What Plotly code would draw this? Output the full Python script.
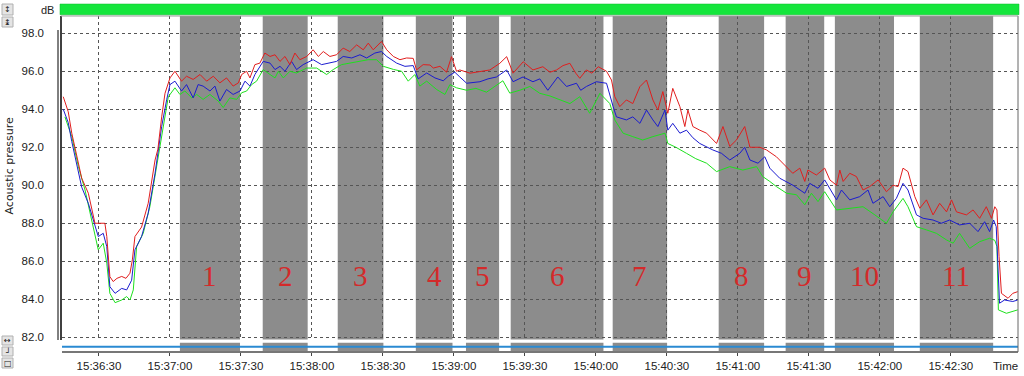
import pandas as pd
import plotly.graph_objects as go

# ---------------- data (seconds after 15:36:00, dB) ----------------
red_points = [(14.9,94.66),(17.0,93.87),(18.5,92.74),(20.6,91.5),(22.7,90.37),(25.5,89.58),(28.3,88.0),(32.5,88.0),
    (33.3,87.3),(34.6,85.19),(36.0,84.93),(37.6,85.1),(39.6,85.2),(41.4,85.1),(43.1,85.37),(44.1,86.07),(45.2,87.3),
    (48.0,87.8),(50.8,89.05),(53.7,91.33),(54.9,91.9),(56.5,93.6),(57.9,94.84),(60.0,95.65),(62.1,96.0),(64.9,95.48),
    (67.0,95.74),(69.8,95.57),(72.7,95.83),(75.5,95.48),(78.3,95.74),(81.1,95.39),(83.9,95.65),(86.7,95.22),(88.9,95.39),
    (90.3,95.83),(92.4,96.0),(93.8,95.65),(95.9,96.35),(98.0,96.43),(100.1,96.96),(102.3,96.78),(104.4,96.87),(106.5,96.52),
    (108.6,96.78),(110.7,96.35),(112.8,96.96),(114.9,96.61),(117.8,96.78),(120.5,97.13),(122.7,96.78),(124.8,97.04),
    (127.6,96.78),(130.4,96.87),(133.2,97.22),(136.0,97.04),(138.9,97.39),(141.7,97.13),(143.8,97.48),(145.9,97.13),
    (149.4,97.57),(151.6,97.13),(154.4,96.78),(157.2,96.61),(160.0,96.7),(162.8,96.68),(164.2,96.07),(167.0,96.35),
    (169.9,96.33),(171.3,96.17),(174.1,96.26),(176.9,95.95),(179.0,96.77),(181.1,96.0),(182.5,96.07),(186.8,95.9),
    (191.0,96.0),(195.2,96.07),(199.4,96.42),(202.3,96.77),(205.0,95.9),(209.3,96.5),(213.4,96.07),(217.6,96.24),
    (220.6,95.95),(223.4,96.07),(226.1,96.3),(229.0,96.42),(231.5,95.9),(233.2,95.63),(236.0,96.07),(238.3,95.9),
    (241.0,96.24),(244.5,96.0),(246.6,95.54),(248.0,94.66),(250.1,94.14),(252.9,94.49),(255.6,94.3),(258.6,95.19),
    (261.4,95.54),(264.1,94.49),(266.2,93.96),(268.3,94.93),(270.4,93.79),(272.5,95.1),(275.5,94.14),(277.6,93.09),
    (278.9,93.96),(281.0,93.09),(283.9,92.9),(286.8,92.74),(291.0,92.2),(293.7,93.09),(296.6,92.04),(299.4,92.38),
    (302.9,93.09),(305.1,92.0),(309.3,92.0),(312.1,91.86),(316.3,91.5),(320.6,90.98),(323.2,90.63),(326.2,90.9),
    (328.3,90.2),(329.6,90.8),(333.2,90.54),(336.7,90.9),(338.9,90.28),(341.7,90.0),(343.1,90.8),(344.5,90.2),
    (347.3,90.63),(350.1,90.46),(352.9,89.75),(355.7,89.93),(359.3,90.28),(362.8,89.66),(365.6,90.0),(367.7,89.93),
    (369.8,90.9),(371.9,90.72),(374.8,89.4),(376.9,88.79),(379.7,89.23),(382.5,88.44),(385.3,89.05),(388.2,88.6),
    (390.3,89.23),(392.4,88.6),(396.6,88.44),(399.4,88.7),(402.2,88.26),(405.0,88.87),(407.2,88.26),(408.6,88.87),
    (409.5,88.7),(410.4,86.24),(411.4,84.31),(414.2,84.05),(416.2,84.31),(418.3,84.4)]

blue_points = [(14.9,94.0),(17.0,93.3),(18.5,92.3),(20.6,91.1),(22.7,89.9),(25.5,89.05),(28.3,87.8),(29.7,87.3),
    (31.8,87.47),(33.3,86.77),(34.6,84.66),(36.8,84.31),(39.6,84.57),(41.7,84.49),(43.8,85.0),(45.2,86.6),(48.0,87.3),
    (50.8,88.53),(53.7,90.63),(56.5,93.1),(58.6,94.5),(60.0,95.3),(62.1,95.48),(64.9,94.96),(67.0,95.3),(69.8,94.6),
    (71.9,95.3),(74.0,95.22),(76.9,94.96),(79.0,95.22),(81.1,94.43),(83.9,95.04),(86.7,94.78),(89.6,94.96),(91.7,95.48),
    (93.8,95.22),(95.9,95.83),(99.4,96.52),(102.3,96.43),(104.4,96.09),(106.5,96.26),(108.6,96.0),(111.4,96.52),
    (113.5,96.09),(116.3,96.35),(120.5,96.61),(124.1,96.35),(126.9,96.43),(130.4,96.52),(133.2,96.78),(136.8,96.7),
    (140.3,96.87),(143.1,96.7),(146.6,96.96),(149.4,97.04),(151.6,96.78),(155.8,96.43),(159.3,96.26),(162.8,96.3),
    (164.9,95.6),(168.5,95.91),(172.0,95.65),(175.5,95.5),(177.6,95.74),(180.4,95.95),(182.5,95.7),(185.4,95.37),
    (191.0,95.45),(194.4,95.6),(198.0,95.7),(202.3,96.07),(205.0,95.45),(209.2,95.7),(213.4,95.45),(216.3,95.6),
    (219.7,95.0),(223.9,95.7),(227.6,95.2),(231.8,95.37),(233.6,95.0),(236.0,95.2),(240.2,95.45),(244.5,95.37),
    (247.3,94.14),(248.7,93.6),(252.9,93.44),(255.6,93.6),(258.6,93.26),(261.4,93.96),(264.1,93.44),(266.2,93.09),
    (269.2,93.96),(270.4,92.9),(272.5,93.26),(275.5,92.74),(278.3,92.9),(281.0,92.5),(283.9,92.2),(289.4,91.86),
    (293.1,91.68),(296.6,91.33),(300.8,91.68),(302.9,92.0),(305.1,91.33),(308.5,91.16),(311.4,91.5),(313.5,90.9),
    (317.7,90.37),(323.3,90.0),(328.3,89.58),(330.4,90.1),(333.9,89.84),(336.7,90.28),(341.7,89.23),(343.8,89.75),
    (347.3,89.23),(351.5,89.4),(355.0,89.75),(357.1,89.05),(361.4,89.4),(364.2,88.87),(367.0,89.31),(369.8,90.1),
    (371.9,89.75),(375.5,88.44),(378.3,88.26),(382.5,88.17),(386.0,88.0),(389.5,88.17),(393.7,87.91),(398.0,88.0),
    (401.5,87.56),(404.3,88.08),(406.4,87.56),(408.1,88.17),(409.2,87.82),(409.9,85.37),(410.6,83.79),(412.7,83.96),
    (416.2,83.88),(418.3,83.96)]

green_points = [(15.6,93.6),(18.5,92.56),(21.3,90.98),(24.1,89.75),(26.9,88.17),(29.7,86.6),(31.8,86.95),(33.3,85.9),
    (34.6,84.31),(36.8,83.82),(39.6,83.96),(41.7,84.14),(43.1,83.96),(44.5,84.49),(45.9,86.77),(48.7,87.47),(51.5,88.87),
    (54.4,90.98),(57.2,93.1),(59.3,94.66),(62.1,95.13),(64.2,94.78),(66.3,94.96),(69.2,94.6),(71.3,94.78),(74.0,94.52),
    (76.9,94.78),(80.4,94.43),(82.5,94.09),(85.3,94.6),(88.2,94.52),(90.3,94.87),(92.4,94.96),(94.5,95.3),(96.6,95.48),
    (99.4,96.09),(102.3,95.83),(104.4,95.65),(105.8,96.0),(107.9,95.65),(110.7,96.0),(113.5,95.91),(117.8,96.17),
    (122.0,96.17),(126.2,95.83),(129.0,96.09),(132.5,96.35),(136.0,96.43),(140.3,96.52),(143.8,96.61),(147.3,96.61),
    (150.2,96.26),(154.4,96.1),(157.9,96.0),(160.7,95.48),(163.5,95.83),(165.6,95.22),(168.5,95.48),(172.7,95.04),
    (176.2,94.78),(178.3,95.3),(181.1,95.13),(185.4,95.0),(189.3,95.1),(193.8,94.9),(197.3,95.2),(200.7,95.5),
    (203.6,94.85),(207.8,95.0),(212.1,95.2),(216.3,94.84),(220.6,94.7),(224.8,94.5),(229.0,94.3),(233.2,94.66),
    (237.4,93.79),(241.7,94.84),(245.9,94.3),(248.0,93.44),(251.5,92.74),(255.6,92.56),(259.8,92.38),(264.1,92.56),
    (269.2,92.74),(270.4,92.2),(273.8,92.0),(278.3,91.68),(282.2,91.4),(286.8,91.16),(291.0,90.72),(296.6,90.98),
    (302.1,90.8),(307.9,90.98),(310.5,90.46),(313.5,90.2),(316.3,89.93),(320.6,89.58),(324.8,89.5),(328.3,88.97),
    (331.1,89.58),(333.9,89.14),(336.7,89.66),(341.7,88.7),(347.3,88.79),(352.9,88.87),(357.9,88.44),(362.8,88.0),
    (365.6,88.6),(369.8,89.31),(371.9,88.87),(375.5,87.82),(379.7,87.65),(383.9,87.47),(388.2,87.12),(391.0,86.95),
    (393.7,87.47),(398.0,86.68),(402.2,87.03),(406.4,87.21),(408.6,87.1),(409.5,86.77),(410.1,83.44),(413.5,83.26),
    (418.3,83.44)]

# gray measurement bands (start s, end s after 15:36:00) and their labels
band_starts = [64.2, 99.2, 130.9, 163.9, 185.1, 204.0, 247.1, 291.9, 320.2, 341.0, 376.9]
band_ends   = [89.6, 118.2, 150.2, 179.4, 199.1, 243.2, 270.1, 311.1, 336.5, 366.0, 407.9]
band_labels = ["1", "2", "3", "4", "5", "6", "7", "8", "9", "10", "11"]

tick_labels = ["15:36:30", "15:37:00", "15:37:30", "15:38:00", "15:38:30", "15:39:00", "15:39:30",
               "15:40:00", "15:40:30", "15:41:00", "15:41:30", "15:42:00", "15:42:30"]
y_ticks = [82, 84, 86, 88, 90, 92, 94, 96, 98]

x_start_s, x_end_s = 14.37, 418.4
y_min, y_max = 81.88, 98.91
label_level = 85.2

# ---------------- helpers ----------------
DAY = "2024-01-01"
base = pd.Timestamp(DAY + " 15:36:00")
def ts(sec):
    return base + pd.to_timedelta(sec, unit="s")

W, H = 1024, 376
ML, MR, MT, MB = 62, 6, 16, 24
PW, PH = W - ML - MR, H - MT - MB
def px(x):
    return (x - ML) / PW
def py(y):
    return (H - MB - y) / PH

FONT = "Liberation Sans, Arial, sans-serif"

fig = go.Figure()
for pts, col in [(green_points, "#1ee01e"), (blue_points, "#1c1ccf"), (red_points, "#e01e1e")]:
    t, v = zip(*pts)
    fig.add_trace(go.Scatter(x=[ts(s) for s in t], y=list(v), mode="lines",
                             line=dict(color=col, width=1), hoverinfo="skip", showlegend=False))

# invisible trace for the event track axis
fig.add_trace(go.Scatter(x=[ts(x_start_s), ts(x_end_s)], y=[0, 1], xaxis="x2", yaxis="y2",
                         mode="markers", marker=dict(opacity=0), showlegend=False, hoverinfo="skip"))

shapes = []
annotations = []
for s0, s1, lab in zip(band_starts, band_ends, band_labels):
    shapes.append(dict(type="rect", xref="x", yref="y domain", x0=ts(s0), x1=ts(s1), y0=0, y1=1,
                       fillcolor="#8c8c8c", line=dict(width=0), layer="below"))
    shapes.append(dict(type="rect", xref="x2", yref="y2 domain", x0=ts(s0), x1=ts(s1), y0=0, y1=1,
                       fillcolor="#8c8c8c", line=dict(width=0), layer="below"))
    annotations.append(dict(x=ts((s0 + s1) / 2), y=label_level, xref="x", yref="y", text=lab, showarrow=False,
                            font=dict(family="Liberation Serif, Times New Roman, serif", size=29, color="#d42a2a")))

# blue line in event track
shapes.append(dict(type="line", xref="x2 domain", yref="y2 domain", x0=0, x1=1, y0=0.5, y1=0.5,
                   line=dict(color="#2a8ad2", width=2)))
# frame lines
shapes.append(dict(type="line", xref="paper", yref="paper", x0=px(61), x1=px(61), y0=py(340), y1=1,
                   line=dict(color="#000", width=1.5)))
shapes.append(dict(type="line", xref="paper", yref="paper", x0=px(58), x1=px(58), y0=py(340), y1=py(30),
                   line=dict(color="#000", width=1)))
shapes.append(dict(type="line", xref="paper", yref="paper", x0=px(1018), x1=px(1018), y0=0, y1=1,
                   line=dict(color="#666", width=1)))
shapes.append(dict(type="line", xref="paper", yref="paper", x0=px(61), x1=px(1018), y0=1, y1=1,
                   line=dict(color="#999", width=1)))
# green level bar at top
shapes.append(dict(type="rect", xref="paper", yref="paper", x0=px(60), x1=px(1019), y0=py(14.7), y1=py(4),
                   fillcolor="#14e63c", line=dict(color="#0fb82f", width=0.5)))
# small tool buttons on the left
for (y0, y1, glyph) in [(4, 15, "↕"), (17, 27, "↨"), (336, 345, "↔"), (347, 356, "┘"), (358, 368, "□")]:
    shapes.append(dict(type="rect", xref="paper", yref="paper", x0=px(2), x1=px(13), y0=py(y1), y1=py(y0),
                       fillcolor="#e4e4e4", line=dict(color="#b0b0b0", width=1)))
    annotations.append(dict(x=px(7.5), y=py((y0 + y1) / 2), xref="paper", yref="paper", text=glyph,
                            xanchor="center", yanchor="middle", showarrow=False,
                            font=dict(family="DejaVu Sans", size=8, color="#222")))

annotations.append(dict(x=px(56), y=py(10.5), xref="paper", yref="paper", text="dB", showarrow=False,
                        xanchor="right", yanchor="middle", font=dict(family=FONT, size=11, color="#222")))
annotations.append(dict(x=px(1005), y=py(366), xref="paper", yref="paper", text="Time", showarrow=False,
                        xanchor="center", yanchor="middle", font=dict(family=FONT, size=11.5, color="#222")))
annotations.append(dict(x=px(8.5), y=py(166), xref="paper", yref="paper", text="Acoustic pressure",
                        showarrow=False, textangle=-90, xanchor="center", yanchor="middle",
                        font=dict(family="DejaVu Sans", size=11, color="#222")))

tickvals = [pd.Timestamp(DAY + " " + s) for s in tick_labels]

fig.update_layout(
    width=W, height=H, margin=dict(l=ML, r=MR, t=MT, b=MB, autoexpand=False),
    paper_bgcolor="white", plot_bgcolor="white",
    shapes=shapes, annotations=annotations, showlegend=False,
    xaxis=dict(range=[ts(x_start_s), ts(x_end_s)], anchor="y", tickvals=tickvals, showticklabels=False,
               showgrid=True, gridcolor="#555", griddash="3px,3px", gridwidth=1, zeroline=False,
               showline=False, ticks="", automargin=False),
    yaxis=dict(domain=[py(339.5), 1], range=[y_min, y_max], tickvals=y_ticks,
               ticktext=[f"{v:.1f}" for v in y_ticks], showgrid=True, gridcolor="#555",
               griddash="3px,3px", gridwidth=1, zeroline=False, showline=False, ticks="",
               ticklabelstandoff=17, automargin=False, tickfont=dict(family=FONT, size=11.5, color="#222")),
    xaxis2=dict(range=[ts(x_start_s), ts(x_end_s)], anchor="y2", matches="x", tickvals=tickvals,
                ticktext=tick_labels, showgrid=False, showline=True, linecolor="#777", linewidth=2,
                ticks="outside", ticklen=3, tickcolor="#444", automargin=False,
                tickfont=dict(family=FONT, size=11.5, color="#222"), zeroline=False),
    yaxis2=dict(domain=[py(351), py(342.7)], range=[0, 1], showticklabels=False, showgrid=False,
                zeroline=False, showline=False, ticks="", automargin=False),
)

fig.write_html("out.html", config={"displayModeBar": False},
               post_script="document.body.style.margin='0';document.body.style.padding='0';")
